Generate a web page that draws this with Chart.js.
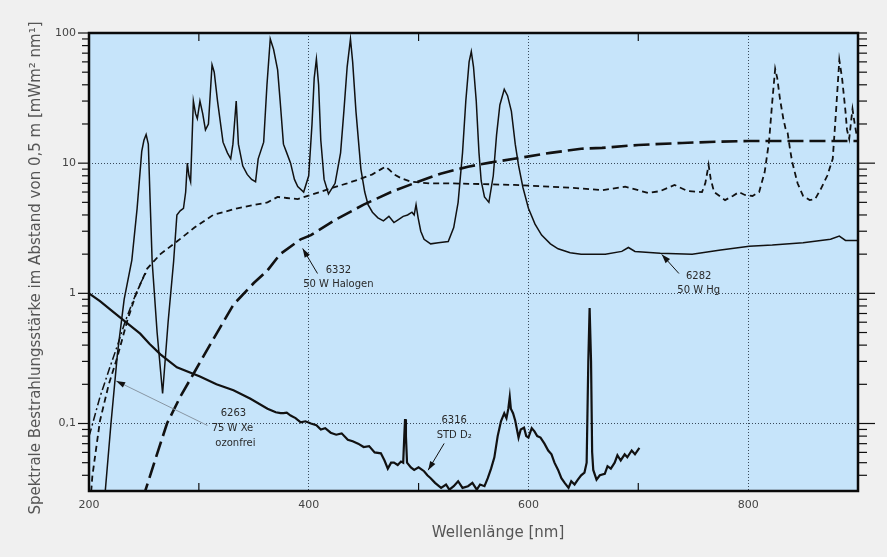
<!DOCTYPE html>
<html><head><meta charset="utf-8">
<script src="https://cdn.jsdelivr.net/npm/chart.js@4/dist/chart.umd.min.js"></script>
<style>
html,body{margin:0;padding:0;background:#f0f0f0;}
canvas{display:block;}
</style></head>
<body>
<canvas id="c" width="887" height="557"></canvas>
<script>
// ---- data (wavelength nm, irradiance) ----
const xTickLabels = [200, 400, 600, 800];
const yTickLabels = [[100,'100'],[10,'10'],[1,'1'],[0.1,'0,1']];
const xGrid = [400, 600, 800];
const yGrid = [10, 1, 0.1];
const xMinor = [300, 500, 700];

const hg6282 = [[213,0.02],[220,0.1],[226,0.35],[232,0.9],[239,1.8],[243.8,4.5],[248,12.3],[250,15],[252,16.6],[254,14],[255.7,5],[257.5,1.75],[262,0.5],[267,0.17],[272,0.6],[277,1.75],[280,4.0],[283,4.3],[286,4.5],[288,6],[289.5,10],[291,8],[292.5,7.2],[295,30],[297,24],[298.6,22],[301,30],[303.5,24],[306,18],[308.7,20],[312,57],[314,50],[317,30],[322,14.5],[326,12],[329,10.8],[331,14],[334,30],[336,14],[340,9.5],[344,8.2],[348,7.5],[351.6,7.2],[354,10.8],[359,14.5],[362,40],[365,90],[368,75],[371.7,52],[374,30],[377,14],[380,12],[383.5,10],[387,7.5],[390,6.6],[395.4,6.0],[400,8],[403,20],[405,45],[407,63],[409,40],[411,15],[414,7.5],[418,5.8],[424,7],[429,12],[432,25],[435,55],[438,90],[440,60],[443,25],[447.5,9],[451,6],[454,4.8],[458,4.2],[463,3.8],[468,3.6],[473,3.9],[477.6,3.5],[482,3.7],[486,3.9],[490,4.0],[494,4.2],[496,4.0],[497.7,4.8],[499.6,3.8],[502,3.0],[505,2.6],[511,2.4],[518,2.45],[527,2.5],[532,3.2],[536,5],[540,12],[543,30],[546,60],[548,72],[550,55],[552.5,30],[555,12],[557,7.3],[560,5.5],[564,5.0],[568,8],[571,16.5],[574,28],[578,37],[581,33],[584.5,25],[588,14],[591,9.6],[595,6.5],[600,4.5],[606,3.4],[612,2.8],[620,2.4],[627,2.2],[638,2.05],[648,2.0],[670,2.0],[685,2.1],[691,2.25],[697,2.1],[720,2.03],[749,2.0],[775,2.15],[801,2.3],[822,2.35],[850,2.45],[875,2.6],[883,2.75],[888.6,2.55],[901,2.55]];

const halogen6332 = [[245,0.018],[251,0.03],[261,0.055],[271,0.1],[283,0.16],[295,0.24],[310,0.4],[331.5,0.82],[350,1.2],[362.5,1.5],[374,2.0],[392.7,2.6],[402,2.8],[425,3.7],[450,4.8],[475,6.0],[499.5,7.2],[520,8.3],[545,9.4],[565,10.1],[587,10.8],[620,12],[648,12.9],[667,13.1],[700,13.8],[740,14.3],[770,14.6],[801,14.8],[850,14.8],[902,14.8]];

const xe6263 = [[202,0.03],[203,0.039],[206,0.06],[210,0.105],[218,0.2],[225.6,0.32],[234.7,0.61],[243,1.0],[253,1.55],[265,2.0],[280,2.5],[296,3.2],[313,4.0],[335,4.5],[362.5,5.0],[371.7,5.5],[380,5.4],[390,5.3],[402,5.7],[420,6.4],[435,7.0],[447.5,7.6],[458,8.2],[466,9.0],[470,9.4],[474,8.8],[477.6,8.2],[485,7.6],[493,7.2],[510,7.0],[527,7.0],[560,6.9],[587,6.8],[620,6.6],[648,6.4],[667,6.2],[688,6.6],[700,6.2],[709,5.9],[720,6.1],[733,6.8],[745,6.1],[758,6.0],[761,7],[764,9.7],[766,7.5],[769,6.0],[779,5.2],[786,5.6],[791.7,6.0],[797,5.7],[804,5.6],[810,6.0],[815,8.5],[819,14.6],[822,30],[824.6,53],[826.5,45],[829,31],[832,22],[834,18.5],[836,17],[838,13],[840,10.3],[845,7],[850,5.6],[856,5.2],[861,5.3],[866,6.3],[872,8],[877,10.8],[880,25],[883,62],[885.5,45],[888.6,25],[890,18],[892,15.4],[894,22],[895,26],[897,20],[899,16],[901,16.5]];

const xeDashDot = [[200,0.08],[201,0.085],[210,0.16],[219,0.27],[226,0.4],[233,0.61],[240,0.87],[247,1.2],[253,1.5]];

const d2_6316 = [[200,1.0],[210,0.87],[222,0.72],[234.7,0.59],[246.6,0.49],[255,0.41],[265,0.34],[280,0.27],[301,0.23],[316,0.2],[331.5,0.18],[347,0.155],[362.5,0.13],[370,0.122],[374.4,0.12],[377,0.12],[380,0.121],[383.5,0.115],[388,0.11],[392.7,0.102],[397,0.104],[402,0.1],[407,0.097],[411,0.09],[415,0.092],[420,0.085],[425,0.082],[430,0.084],[435.6,0.075],[440,0.073],[445,0.07],[450,0.066],[455,0.067],[460,0.06],[465.7,0.059],[469,0.052],[472,0.045],[475,0.05],[477.6,0.05],[481,0.048],[484,0.051],[486,0.05],[487,0.08],[487.7,0.108],[488.5,0.08],[489.5,0.05],[493,0.046],[496,0.044],[500,0.046],[505,0.043],[508,0.04],[511,0.038],[515,0.035],[520.5,0.032],[525,0.034],[528,0.031],[532,0.033],[536,0.036],[540,0.032],[545,0.033],[549,0.035],[553,0.031],[556,0.034],[560,0.033],[563,0.038],[566,0.045],[569,0.055],[572,0.08],[575,0.104],[578,0.12],[580,0.11],[581.7,0.13],[583,0.16],[584,0.13],[586,0.12],[588,0.105],[591,0.078],[593,0.09],[596,0.093],[598,0.08],[600,0.078],[603,0.092],[605.5,0.087],[608,0.08],[611,0.078],[614.6,0.07],[618,0.062],[621,0.058],[623.7,0.05],[627,0.044],[630,0.038],[633,0.035],[636.5,0.032],[639,0.036],[642,0.034],[645,0.037],[648,0.04],[651,0.042],[653,0.05],[654.5,0.3],[655.7,0.77],[657,0.3],[658,0.06],[659,0.044],[662,0.037],[665,0.04],[669.5,0.041],[672,0.047],[675,0.045],[678.5,0.05],[681,0.057],[684,0.052],[687.6,0.058],[690,0.055],[694,0.062],[697,0.058],[701,0.065]];

// annotations in data coordinates: lines of text [x, y, text], arrow [tailX, tailY, tipX, tipY]
const annotations = [
  {texts:[[427,1.5,'6332'],[427,1.17,'50 W Halogen']], arrow:[408,1.42,394.5,2.21], color:'#111'},
  {texts:[[755,1.35,'6282'],[755,1.05,'50 W Hg']], arrow:[737,1.42,721.4,1.99], color:'#111'},
  {texts:[[331.5,0.119,'6263'],[330.6,0.0917,'75 W Xe'],[333.3,0.070,'ozonfrei']], arrow:[307.8,0.0966,224.7,0.2125], color:'#8896a3'},
  {texts:[[532.4,0.1054,'6316'],[532.4,0.0807,'STD D\u2082']], arrow:[523.3,0.0703,508.7,0.0438], color:'#111'}
];

const toXY = arr => arr.map(p => ({x:p[0], y:p[1]}));
const near = (a,b) => Math.abs(a/b - 1) < 1e-6;

const decor = {
  id:'decor',
  beforeDraw(chart){
    const {ctx, chartArea:a} = chart;
    ctx.save();
    ctx.fillStyle = '#f0f0f0';
    ctx.fillRect(0,0,chart.width,chart.height);
    ctx.fillStyle = 'rgb(198,228,250)';
    ctx.fillRect(a.left,a.top,a.right-a.left,a.bottom-a.top);
    ctx.restore();
  },
  afterDatasetsDraw(chart){
    const {ctx, chartArea:a, scales:{x,y}} = chart;
    ctx.save();
    // annotations
    ctx.font = '10px "DejaVu Sans", sans-serif';
    ctx.textAlign = 'center'; ctx.textBaseline = 'middle';
    annotations.forEach(an => {
      an.texts.forEach(t => {
        ctx.fillStyle = '#2a2a2a';
        ctx.fillText(t[2], x.getPixelForValue(t[0]), y.getPixelForValue(t[1]));
      });
      const x1 = x.getPixelForValue(an.arrow[0]), y1 = y.getPixelForValue(an.arrow[1]);
      const x2 = x.getPixelForValue(an.arrow[2]), y2 = y.getPixelForValue(an.arrow[3]);
      ctx.strokeStyle = an.color; ctx.lineWidth = 1;
      ctx.beginPath(); ctx.moveTo(x1,y1); ctx.lineTo(x2,y2); ctx.stroke();
      const ang = Math.atan2(y2-y1, x2-x1), L = 9, W = 3;
      ctx.fillStyle = '#111';
      ctx.beginPath();
      ctx.moveTo(x2,y2);
      ctx.lineTo(x2 - L*Math.cos(ang) + W*Math.sin(ang), y2 - L*Math.sin(ang) - W*Math.cos(ang));
      ctx.lineTo(x2 - L*Math.cos(ang) - W*Math.sin(ang), y2 - L*Math.sin(ang) + W*Math.cos(ang));
      ctx.closePath(); ctx.fill();
    });
    // tick marks
    ctx.strokeStyle = '#111'; ctx.lineWidth = 1.2;
    const line = (xa,ya,xb,yb)=>{ctx.beginPath();ctx.moveTo(xa,ya);ctx.lineTo(xb,yb);ctx.stroke();};
    for (let e=-2; e<=1; e++) {
      for (let m=1; m<=9; m++) {
        const v = m*Math.pow(10,e);
        if (v < y.min*0.999 || v > y.max*1.001) continue;
        const py = y.getPixelForValue(v);
        const major = m===1;
        line(a.left - (major?11:7), py, a.left, py);
        line(a.right, py, a.right + (major?17:9), py);
      }
    }
    line(a.left-11, a.top, a.left, a.top);
    line(a.right, a.top, a.right+9, a.top);
    xMinor.forEach(v=>{
      const px = x.getPixelForValue(v);
      line(px, a.bottom, px, a.bottom-8);
      line(px, a.top, px, a.top+8);
    });
    // frame
    ctx.lineWidth = 2.5; ctx.strokeStyle = '#0a0a0a';
    ctx.strokeRect(a.left, a.top, a.right-a.left, a.bottom-a.top);
    // axis titles
    ctx.fillStyle = '#555';
    ctx.font = '15px "DejaVu Sans", sans-serif';
    ctx.textAlign = 'center'; ctx.textBaseline = 'middle';
    ctx.fillText('Wellenlänge [nm]', 498, 533);
    ctx.translate(36, 268);
    ctx.rotate(-Math.PI/2);
    ctx.font = '15px "DejaVu Sans", sans-serif';
    ctx.fillText('Spektrale Bestrahlungsstärke im Abstand von 0,5 m [mWm\u00b2 nm\u00b9]', 0, 0);
    ctx.restore();
  }
};

const tickFont = {family:'"DejaVu Sans", sans-serif', size:11};

new Chart(document.getElementById('c'), {
  type:'line',
  data:{datasets:[
    {data:toXY(hg6282), borderColor:'#111', borderWidth:1.5},
    {data:toXY(halogen6332), borderColor:'#111', borderWidth:2.6, borderDash:[16,6]},
    {data:toXY(xe6263), borderColor:'#111', borderWidth:1.8, borderDash:[6,4]},
    {data:toXY(xeDashDot), borderColor:'#111', borderWidth:1.5, borderDash:[8,3,2,3]},
    {data:toXY(d2_6316), borderColor:'#111', borderWidth:2.2}
  ]},
  options:{
    responsive:false, animation:false,
    layout:{padding:{left:0,right:29,top:33,bottom:0}},
    plugins:{legend:{display:false}, tooltip:{enabled:false}},
    elements:{point:{radius:0}, line:{tension:0, fill:false}},
    scales:{
      x:{
        type:'linear', min:200, max:900,
        afterFit(s){ s.height = 66; },
        afterBuildTicks(s){ s.ticks = [200,300,400,500,600,700,800,900].map(v=>({value:v})); },
        ticks:{ autoSkip:false, maxRotation:0, padding:8, color:'#444', font:tickFont,
          callback:v => xTickLabels.includes(v) ? String(v) : '' },
        grid:{ drawTicks:false, lineWidth:1,
          color:c => (c.tick && xGrid.includes(c.tick.value)) ? '#3a4a5a' : 'rgba(0,0,0,0)' },
        border:{ display:false, dash:[1,2] }
      },
      y:{
        type:'logarithmic', min:0.0303, max:100,
        afterFit(s){ s.width = 89; },
        ticks:{ autoSkip:false, padding:13, color:'#444', font:tickFont,
          callback:v => { const f = yTickLabels.find(t=>near(v,t[0])); return f ? f[1] : ''; } },
        grid:{ drawTicks:false, lineWidth:1,
          color:c => (c.tick && yGrid.some(g=>near(c.tick.value,g))) ? '#3a4a5a' : 'rgba(0,0,0,0)' },
        border:{ display:false, dash:[1,2] }
      }
    }
  },
  plugins:[decor]
});
</script>
</body></html>
